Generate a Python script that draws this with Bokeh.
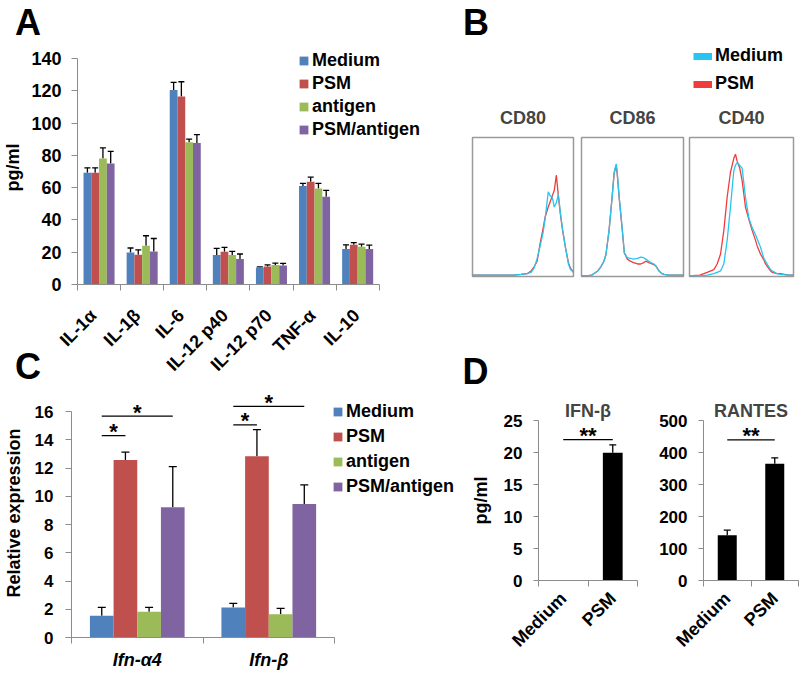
import numpy as np
from bokeh.plotting import figure
from bokeh.models import (Range1d, FixedTicker, Legend, LegendItem, Whisker, TeeHead,
                          ColumnDataSource, Label)
from bokeh.layouts import row, column
from bokeh.embed import file_html
from bokeh.resources import INLINE
from bokeh.core.properties import value

FONT = "Liberation Sans"

# ---------------- Panel A data ----------------
cytokines = ["IL-1α", "IL-1β", "IL-6", "IL-12 p40", "IL-12 p70", "TNF-α", "IL-10"]
series = ["Medium", "PSM", "antigen", "PSM/antigen"]
a_medium = [69.2, 19.9, 120.5, 18.3, 10.5, 61.0, 22.0]
a_medium_err = [3.1, 2.7, 4.7, 4.1, 0.4, 1.6, 2.6]
a_psm = [69.2, 18.5, 116.4, 20.3, 11.1, 63.6, 24.6]
a_psm_err = [3.1, 2.9, 9.2, 2.7, 1.0, 2.9, 1.3]
a_antigen = [78.0, 24.0, 88.1, 18.3, 12.1, 59.5, 23.4]
a_antigen_err = [6.6, 6.2, 2.0, 2.2, 1.2, 3.1, 1.6]
a_psm_antigen = [74.9, 20.5, 87.7, 15.8, 11.7, 54.4, 22.0]
a_psm_antigen_err = [7.6, 8.0, 5.1, 3.1, 1.4, 3.9, 2.4]
a_ticks = [0, 20, 40, 60, 80, 100, 120, 140]

# ---------------- Panel B data (histograms: channel % vs. % of max count) ----------------
cd80_x = [0, 10, 20, 30, 40, 48, 54, 58, 61, 64, 67, 70, 72, 75, 77, 79, 81, 83, 85, 87, 89, 92, 95, 97, 100]
cd80_psm = [1, 1, 1, 1, 1, 1.5, 2, 4, 7, 11, 24, 35, 43, 50, 54, 58, 62, 73, 58, 45, 34, 21, 10, 6, 3]
cd80_medium = [1, 1, 1, 1, 1, 1.5, 2, 3, 6, 13, 22, 32, 42, 61, 58, 57, 50, 53, 59, 46, 35, 21, 9, 5, 3]
cd86_x = [0, 5, 10, 12, 16, 19, 22, 24, 27, 30, 32, 34, 35, 37, 40, 42, 45, 48, 51, 55, 58, 61, 63, 66, 68,
          71, 73, 76, 79, 81, 85, 90, 100]
cd86_psm = [0.5, 0.5, 1, 2, 4, 7, 11, 16, 33, 57, 74, 80, 74, 56, 33, 17, 12.5, 11, 10, 9, 9, 10, 11, 10, 9.5,
            8.5, 7.5, 4, 2, 1.5, 1, 1, 1]
cd86_medium = [0.5, 0.5, 1, 2, 4, 7, 11, 16, 33, 57, 75, 81, 75, 57, 34, 17, 13.5, 13, 12.5, 13, 14, 13.5, 12.5,
               11, 10, 9, 7.5, 4, 2, 1.5, 1, 1, 1]
cd40_x = [0, 10, 17, 23.4, 26.6, 29.8, 33.0, 36.2, 39.4, 42.6, 44.2, 45.8, 48.3, 50.6, 53.8, 57.1, 60.3, 63.5,
          65.1, 68.3, 71.5, 73.1, 77.9, 79.5, 84.3, 87.5, 95, 100]
cd40_psm = [0.5, 1, 3, 5, 9, 16, 33, 57, 75, 85, 88, 83, 78, 69, 50, 41, 33, 26, 22, 16, 12, 9, 4, 3, 2, 2, 1, 1]
cd40_medium = [0.5, 0.5, 1, 2, 3, 4, 9, 26, 50, 76, 80, 82, 80, 78, 57, 42, 35, 30, 27, 21, 13, 11, 5, 4, 2,
               1.5, 1, 1]
b_markers = ["CD80", "CD86", "CD40"]
b_series = ["Medium", "PSM"]

# ---------------- Panel C data ----------------
genes = ["Ifn-α4", "Ifn-β"]
c_medium = [1.54, 2.13]
c_medium_err = [0.59, 0.28]
c_psm = [12.57, 12.83]
c_psm_err = [0.55, 1.89]
c_antigen = [1.82, 1.65]
c_antigen_err = [0.31, 0.41]
c_psm_antigen = [9.22, 9.45]
c_psm_antigen_err = [2.88, 1.35]
c_ticks = [0, 2, 4, 6, 8, 10, 12, 14, 16]
# significance brackets: gene index, from series, to series, height
c_sig_gene = [0, 0, 1, 1]
c_sig_from = [0, 0, 0, 0]
c_sig_to = [1, 3, 1, 3]
c_sig_y = [14.30, 15.67, 15.06, 16.36]
c_sig_text = ["*", "*", "*", "*"]

# ---------------- Panel D data ----------------
d_groups = ["Medium", "PSM"]
ifnb_vals = [0.0, 19.98]
ifnb_err = [0.0, 1.22]
ifnb_ticks = [0, 5, 10, 15, 20, 25]
ifnb_sig_y = 22.0
rantes_vals = [141.7, 364.6]
rantes_err = [15.6, 18.7]
rantes_ticks = [0, 100, 200, 300, 400, 500]
rantes_sig_y = 439.6

COLORS = ["#4F81BD", "#C0504D", "#9BBB59", "#8064A2"]
AXIS_GRAY = "#8C8C8C"
CYAN = "#27C6F0"
RED = "#F03C3C"
LETTER_SIZE = "36px"


def base_fig(**kw):
    kw.setdefault("title", None)
    p = figure(output_backend="svg", toolbar_location=None, frame_align=False, **kw)
    p.xgrid.visible = False
    p.ygrid.visible = False
    p.outline_line_color = None
    p.background_fill_color = "white"
    p.border_fill_color = "white"
    return p


def strip(w, h):
    p = figure(output_backend="svg", toolbar_location=None, frame_align=False, width=w, height=h, title=None,
               x_range=Range1d(0, w), y_range=Range1d(0, h), x_axis_type=None, y_axis_type=None,
               min_border=0, min_border_left=0, min_border_right=0, min_border_top=0, min_border_bottom=0)
    p.xgrid.visible = False
    p.ygrid.visible = False
    p.outline_line_color = None
    return p


def letter(p, txt, x, y):
    p.add_layout(Label(x=x, y=y, text=txt, text_font=FONT, text_font_style="bold",
                       text_font_size=LETTER_SIZE, text_baseline="middle", text_color="black"))


def style_axis(ax, fs="17px"):
    ax.axis_line_color = AXIS_GRAY
    ax.major_tick_line_color = AXIS_GRAY
    ax.minor_tick_line_color = AXIS_GRAY
    ax.major_label_text_font = FONT
    ax.major_label_text_font_style = "bold"
    ax.major_label_text_font_size = fs
    ax.major_label_text_color = "black"
    ax.axis_label_text_font = FONT
    ax.axis_label_text_font_style = "bold"
    ax.axis_label_text_color = "black"
    ax.major_tick_in = 0
    ax.minor_tick_in = 0


def cat_xaxis(p, cats, orient=None, fs="17px", standoff=8, italic=False):
    n = len(cats)
    ax = p.xaxis[0]
    ax.ticker = FixedTicker(ticks=[i + 0.5 for i in range(n)], minor_ticks=list(range(n + 1)))
    ax.major_label_overrides = {i + 0.5: c for i, c in enumerate(cats)}
    ax.bounds = (0, n)
    style_axis(ax, fs)
    if italic:
        ax.major_label_text_font_style = "bold italic"
    ax.major_tick_out = 0
    ax.minor_tick_out = 6
    ax.major_label_standoff = standoff
    if orient is not None:
        ax.major_label_orientation = orient


def grouped_bars(p, n_cats, vals_list, errs_list, width, cap):
    offsets = [(-1.5 + k) * width for k in range(len(vals_list))]
    rends = []
    for k, (vals, errs) in enumerate(zip(vals_list, errs_list)):
        xs = [i + 0.5 + offsets[k] for i in range(n_cats)]
        src = ColumnDataSource(dict(x=xs, top=vals, lower=vals,
                                    upper=[v + e for v, e in zip(vals, errs)]))
        r = p.vbar(x="x", top="top", width=width, source=src, fill_color=COLORS[k], line_color=None)
        p.add_layout(Whisker(source=src, base="x", lower="lower", upper="upper", dimension="height",
                             line_color="black", line_width=1.3,
                             upper_head=TeeHead(size=cap, line_color="black", line_width=1.3),
                             lower_head=None))
        rends.append(r)
    return rends, offsets


def style_legend(leg, gw, gh, lh, standoff, spacing):
    leg.label_text_font = FONT
    leg.label_text_font_style = "bold"
    leg.label_text_font_size = "18px"
    leg.label_text_color = "black"
    leg.glyph_width = gw
    leg.glyph_height = gh
    leg.label_height = lh
    leg.label_standoff = standoff
    leg.spacing = spacing
    leg.padding = 0
    leg.margin = 0
    leg.border_line_color = None
    leg.background_fill_alpha = 0
    return leg


def square_legend(rends, labels, loc, spacing):
    leg = Legend(items=[LegendItem(label=l, renderers=[r]) for l, r in zip(labels, rends)],
                 location=loc, orientation="vertical")
    return style_legend(leg, 11, 11, 21, 3, spacing)


# ================= Panel A =================
stripA = strip(462, 44)
letter(stripA, "A", 14.5, 22)

pA = base_fig(width=462, height=252, x_range=Range1d(0, 7.958), y_range=Range1d(0, 144.96),
              min_border_left=71, min_border_right=42, min_border_top=6, min_border_bottom=12)
rA, _ = grouped_bars(pA, len(cytokines), [a_medium, a_psm, a_antigen, a_psm_antigen],
                     [a_medium_err, a_psm_err, a_antigen_err, a_psm_antigen_err], 0.18, 6)
# x axis line + category boundary ticks (labels are drawn by the axis of pAx below)
axA = pA.xaxis[0]
axA.ticker = FixedTicker(ticks=[], minor_ticks=list(range(len(cytokines) + 1)))
axA.bounds = (0, len(cytokines))
style_axis(axA, "18px")
axA.major_tick_out = 0
axA.minor_tick_out = 6
axA.major_label_standoff = 0
pA.yaxis.ticker = FixedTicker(ticks=a_ticks)
pA.yaxis.bounds = (a_ticks[0], a_ticks[-1])
style_axis(pA.yaxis[0], "18px")
pA.yaxis.major_tick_out = 6
pA.yaxis.major_label_standoff = 10
pA.yaxis.axis_label = "pg/ml"
pA.yaxis.axis_label_text_font_size = "18px"
pA.yaxis.axis_label_standoff = 5
pA.add_layout(square_legend(rA, series, (221, 144), 2))

# category labels of panel A (same x range as pA)
pAx = base_fig(width=412, height=92, x_range=pA.x_range, y_range=Range1d(0, 1), y_axis_type=None,
               min_border_left=21, min_border_right=42, min_border_top=0, min_border_bottom=91)
axL = pAx.xaxis[0]
axL.ticker = FixedTicker(ticks=[i + 0.5 for i in range(len(cytokines))])
axL.major_label_overrides = {i + 0.5: c for i, c in enumerate(cytokines)}
style_axis(axL, "18px")
axL.axis_line_color = None
axL.major_tick_line_color = None
axL.minor_tick_line_color = None
axL.major_tick_out = 0
axL.minor_tick_out = 0
axL.major_label_standoff = 15
axL.major_label_orientation = np.pi / 4

stripCL = strip(50, 92)
letter(stripCL, "C", 14.5, 22)

# ================= Panel B =================
stripB = strip(337, 95)
letter(stripB, "B", 0.5, 73)
src_leg = ColumnDataSource(dict(x=cd40_x, med=cd40_medium, psm=cd40_psm))
proxy_med = stripB.line("x", "med", source=src_leg, line_color=CYAN, line_width=7, visible=False)
proxy_psm = stripB.line("x", "psm", source=src_leg, line_color=RED, line_width=7, visible=False)
legB = Legend(items=[LegendItem(label=b_series[0], renderers=[proxy_med]),
                     LegendItem(label=b_series[1], renderers=[proxy_psm])], location=(231, 1))
style_legend(legB, 19, 20, 21, 3, 7)
stripB.add_layout(legB)

b_data = [(cd80_x, cd80_medium, cd80_psm), (cd86_x, cd86_medium, cd86_psm), (cd40_x, cd40_medium, cd40_psm)]
b_dims = [(115, 10, 4), (109, 4, 3), (113, 3, 6)]
b_figs = []
for name, (xs, med, psm), (w, lft, rgt) in zip(b_markers, b_data, b_dims):
    p = figure(output_backend="svg", toolbar_location=None, frame_align=False, width=w, height=191,
               x_range=Range1d(0, 100), y_range=Range1d(0, 100), x_axis_type=None, y_axis_type=None,
               min_border_left=lft, min_border_right=rgt, min_border_top=42, min_border_bottom=10,
               title=name)
    p.xgrid.visible = False
    p.ygrid.visible = False
    p.outline_line_color = "#9A9A9A"
    p.outline_line_width = 1.5
    p.title.text_font = FONT
    p.title.text_font_style = "bold"
    p.title.text_font_size = "18px"
    p.title.align = "center"
    p.title.standoff = 20
    src = ColumnDataSource(dict(x=xs, med=med, psm=psm))
    p.line("x", "psm", source=src, line_color=RED, line_width=1.3)
    p.line("x", "med", source=src, line_color=CYAN, line_width=1.3)
    b_figs.append(p)

stripD = strip(337, 109)
letter(stripD, "D", 0, 24)

# ================= Panel C =================
pC = base_fig(width=462, height=284, x_range=Range1d(0, 2.973), y_range=Range1d(0, 17.63),
              min_border_left=71, min_border_right=0, min_border_top=0, min_border_bottom=35)
rC, offC = grouped_bars(pC, len(genes), [c_medium, c_psm, c_antigen, c_psm_antigen],
                        [c_medium_err, c_psm_err, c_antigen_err, c_psm_antigen_err], 0.18, 8)
cat_xaxis(pC, genes, fs="18px", standoff=6, italic=True)
pC.yaxis.ticker = FixedTicker(ticks=c_ticks)
pC.yaxis.bounds = (c_ticks[0], c_ticks[-1])
style_axis(pC.yaxis[0], "17px")
pC.yaxis.major_tick_out = 6
pC.yaxis.major_label_standoff = 12
pC.yaxis.axis_label = "Relative expression"
pC.yaxis.axis_label_text_font_size = "18px"
pC.yaxis.axis_label_standoff = 8
sx0 = [g + 0.5 + offC[a] for g, a in zip(c_sig_gene, c_sig_from)]
sx1 = [g + 0.5 + offC[b] for g, b in zip(c_sig_gene, c_sig_to)]
sig_src = ColumnDataSource(dict(x0=sx0, x1=sx1, y=c_sig_y, xm=[(a + b) / 2 for a, b in zip(sx0, sx1)],
                                t=c_sig_text))
pC.segment(x0="x0", x1="x1", y0="y", y1="y", source=sig_src, line_color="black", line_width=1.3)
pC.text(x="xm", y="y", text="t", source=sig_src, text_align="center", text_baseline="alphabetic",
        text_font=value(FONT), text_font_style="bold", text_font_size="22px", y_offset=-4,
        text_color="black")
pC.add_layout(square_legend(rC, series, (261, 140), 4))


# ================= Panel D =================
def d_fig(title, vals, errs, ticks, sig_y, width, left, right, ylabel=None):
    p = base_fig(width=width, height=277, x_range=Range1d(0, len(d_groups)), y_range=Range1d(0, ticks[-1]),
                 min_border_left=left, min_border_right=right, min_border_top=25, min_border_bottom=92,
                 title=title)
    p.title.text_font = FONT
    p.title.text_font_style = "bold"
    p.title.text_font_size = "18px"
    p.title.align = "center"
    p.title.standoff = 0
    xs = [i + 0.5 for i in range(len(d_groups))]
    src = ColumnDataSource(dict(x=xs, top=vals))
    p.vbar(x="x", top="top", width=0.4, source=src, fill_color="black", line_color=None)
    keep = [i for i, v in enumerate(vals) if v > 0]
    esrc = ColumnDataSource(dict(x=[xs[i] for i in keep], lower=[vals[i] for i in keep],
                                 upper=[vals[i] + errs[i] for i in keep]))
    p.add_layout(Whisker(source=esrc, base="x", lower="lower", upper="upper", dimension="height",
                         line_color="black", line_width=1.3,
                         upper_head=TeeHead(size=7, line_color="black", line_width=1.3), lower_head=None))
    ssrc = ColumnDataSource(dict(x0=[xs[0]], x1=[xs[1]], y=[sig_y], xm=[(xs[0] + xs[1]) / 2], t=["**"]))
    p.segment(x0="x0", x1="x1", y0="y", y1="y", source=ssrc, line_color="black", line_width=1.3)
    p.text(x="xm", y="y", text="t", source=ssrc, text_align="center", text_baseline="alphabetic",
           text_font=value(FONT), text_font_style="bold", text_font_size="22px", y_offset=-4,
           text_color="black")
    cat_xaxis(p, d_groups, orient=np.pi / 4, fs="18px", standoff=9)
    p.yaxis.ticker = FixedTicker(ticks=ticks)
    style_axis(p.yaxis[0], "17px")
    p.yaxis.major_tick_out = 5
    p.yaxis.major_label_standoff = 11
    if ylabel:
        p.yaxis.axis_label = ylabel
        p.yaxis.axis_label_text_font_size = "18px"
        p.yaxis.axis_label_standoff = 10
    return p


pD1 = d_fig("IFN-β", ifnb_vals, ifnb_err, ifnb_ticks, ifnb_sig_y, 188, 76, 13, ylabel="pg/ml")
pD2 = d_fig("RANTES", rantes_vals, rantes_err, rantes_ticks, rantes_sig_y, 149, 53, 1)

left_col = column(stripA, pA, row(stripCL, pAx, spacing=0), pC, spacing=0)
right_col = column(stripB, row(*b_figs, spacing=0), stripD, row(pD1, pD2, spacing=0), spacing=0)
layout = row(left_col, right_col, spacing=0)
open("out.html", "w").write(file_html(layout, INLINE))
